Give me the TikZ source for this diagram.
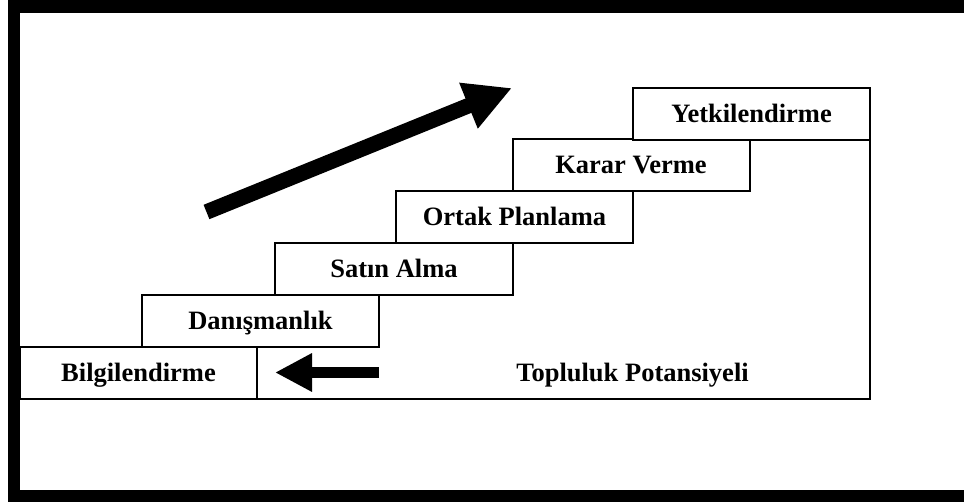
\documentclass[tikz,border=0pt]{standalone}
\usepackage{fontspec}
\setmainfont{Liberation Serif}
\usetikzlibrary{arrows.meta}
\begin{document}
\begin{tikzpicture}[x=1pt,y=-1pt,
  stair/.style={draw=black, line width=2pt, fill=white, rectangle, inner sep=0pt,
    minimum width=237pt, minimum height=52pt,
    font=\bfseries\fontsize{26.5}{30}\selectfont, text height=17.5pt, text depth=0pt},
  label/.style={inner sep=0pt, font=\bfseries\fontsize{26.5}{30}\selectfont,
    text height=17.5pt, text depth=0pt},
  bigarrow/.style={line width=15.5pt, -{Triangle[length=47pt, width=46pt]}},
  smallarrow/.style={line width=10.5pt, -{Triangle[length=37pt, width=36pt]}},
  frame/.style={fill=black, draw=none}]
  \useasboundingbox (0,0) rectangle (964,502);
  % thick frame, open on the right
  \fill[frame] (8,0) rectangle (964,13);
  \fill[frame] (8,0) rectangle (20,502);
  \fill[frame] (8,490) rectangle (964,502);

  % area under the stairs
  \coordinate (pot-bl) at (257,399);
  \coordinate (pot-br) at (870,399);
  \coordinate (pot-tr) at (870,140);
  \draw[line width=2pt] (pot-bl) -- (pot-br) -- (pot-tr);

  % the steps
  \node[stair] (bilgi)  at (138.5,373) {Bilgilendirme};
  \node[stair] (danis)  at (260.5,321) {Danışmanlık};
  \node[stair, minimum width=238pt] (satin) at (394,269) {Satın Alma};
  \node[stair] (ortak)  at (514.5,217) {Ortak Planlama};
  \node[stair] (karar)  at (631,165) {Karar Verme};
  \node[stair] (yetki)  at (751.5,114) {Yetkilendirme};

  \node[label] (potansiyel) at (632.5,372.5) {Topluluk Potansiyeli};

  % arrows
  \coordinate (up-tail) at (206.5,212);
  \coordinate (up-tip) at (512,88);
  \draw[bigarrow] (up-tail) -- (up-tip);

  \coordinate (back-tail) at (379,372.5);
  \coordinate (back-tip) at (275,372.5);
  \draw[smallarrow] (back-tail) -- (back-tip);
\end{tikzpicture}
\end{document}
